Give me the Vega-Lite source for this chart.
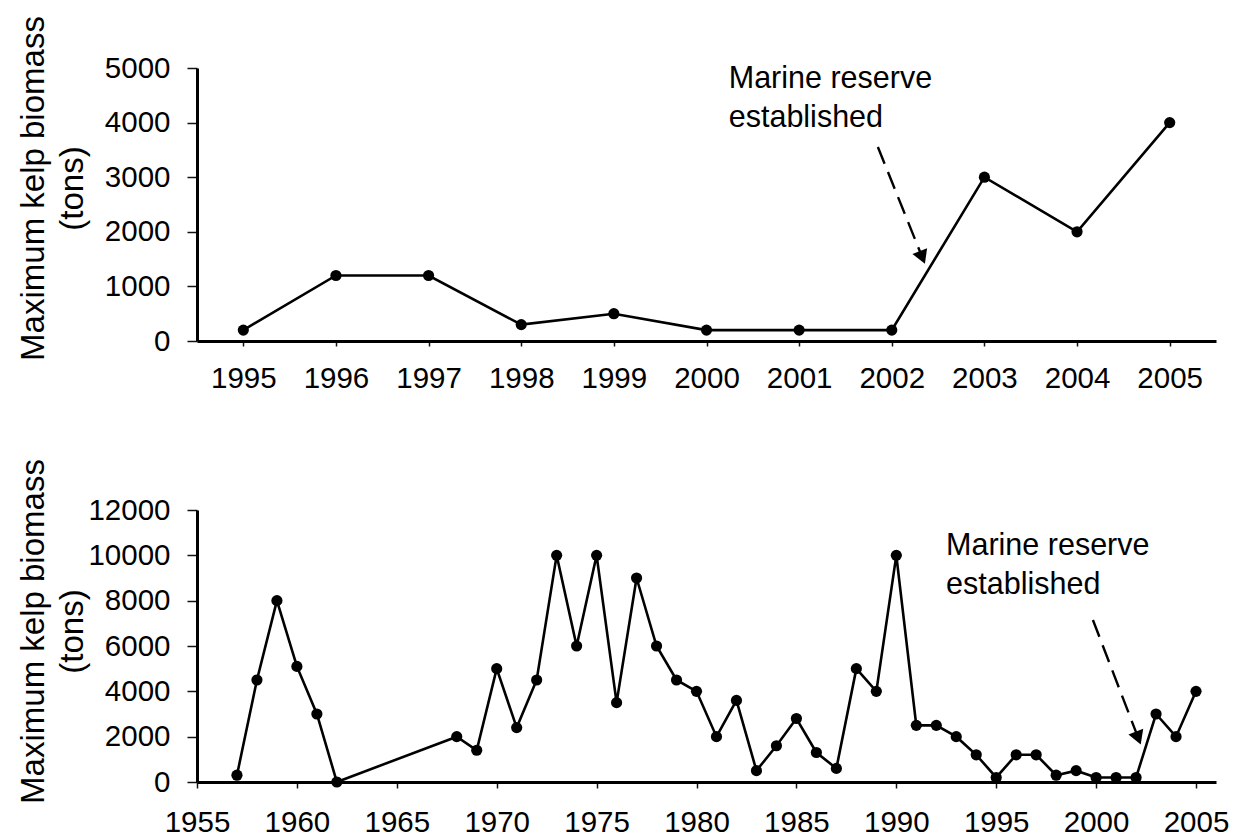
{
  "$schema": "https://vega.github.io/schema/vega-lite/v6.json",
  "background": "white",
  "padding": {"left": 17, "top": 15, "right": 5, "bottom": 0},
  "config": {
    "view": {"stroke": null},
    "font": "Liberation Sans",
    "axis": {
      "grid": false,
      "domainColor": "black",
      "domainWidth": 3,
      "tickColor": "#111111",
      "tickWidth": 1.5,
      "labelColor": "black",
      "labelFont": "Liberation Sans",
      "labelFontSize": 29.5,
      "titleFont": "Liberation Sans",
      "titleColor": "black",
      "titleFontSize": 33,
      "titleFontWeight": "normal"
    }
  },
  "datasets": {
    "top": [
      {"year": 1995, "biomass": 200},
      {"year": 1996, "biomass": 1200},
      {"year": 1997, "biomass": 1200},
      {"year": 1998, "biomass": 300},
      {"year": 1999, "biomass": 500},
      {"year": 2000, "biomass": 200},
      {"year": 2001, "biomass": 200},
      {"year": 2002, "biomass": 200},
      {"year": 2003, "biomass": 3000},
      {"year": 2004, "biomass": 2000},
      {"year": 2005, "biomass": 4000}
    ],
    "bottom": [
      {"year": 1957, "biomass": 300},
      {"year": 1958, "biomass": 4500},
      {"year": 1959, "biomass": 8000},
      {"year": 1960, "biomass": 5100},
      {"year": 1961, "biomass": 3000},
      {"year": 1962, "biomass": 0},
      {"year": 1968, "biomass": 2000},
      {"year": 1969, "biomass": 1400},
      {"year": 1970, "biomass": 5000},
      {"year": 1971, "biomass": 2400},
      {"year": 1972, "biomass": 4500},
      {"year": 1973, "biomass": 10000},
      {"year": 1974, "biomass": 6000},
      {"year": 1975, "biomass": 10000},
      {"year": 1976, "biomass": 3500},
      {"year": 1977, "biomass": 9000},
      {"year": 1978, "biomass": 6000},
      {"year": 1979, "biomass": 4500},
      {"year": 1980, "biomass": 4000},
      {"year": 1981, "biomass": 2000},
      {"year": 1982, "biomass": 3600},
      {"year": 1983, "biomass": 500},
      {"year": 1984, "biomass": 1600},
      {"year": 1985, "biomass": 2800},
      {"year": 1986, "biomass": 1300},
      {"year": 1987, "biomass": 600},
      {"year": 1988, "biomass": 5000},
      {"year": 1989, "biomass": 4000},
      {"year": 1990, "biomass": 10000},
      {"year": 1991, "biomass": 2500},
      {"year": 1992, "biomass": 2500},
      {"year": 1993, "biomass": 2000},
      {"year": 1994, "biomass": 1200},
      {"year": 1995, "biomass": 200},
      {"year": 1996, "biomass": 1200},
      {"year": 1997, "biomass": 1200},
      {"year": 1998, "biomass": 300},
      {"year": 1999, "biomass": 500},
      {"year": 2000, "biomass": 200},
      {"year": 2001, "biomass": 200},
      {"year": 2002, "biomass": 200},
      {"year": 2003, "biomass": 3000},
      {"year": 2004, "biomass": 2000},
      {"year": 2005, "biomass": 4000}
    ],
    "topArrow": [{"year": 2001.85, "biomass": 3553, "year2": 2002.33, "biomass2": 1530}],
    "topHead": [{"year": 2002.33, "biomass": 1530}],
    "topNote": [{"year": 2000.24, "biomass": 4634, "label": "Marine reserve\nestablished"}],
    "bottomArrow": [{"year": 1999.84, "biomass": 7147, "year2": 2002.11, "biomass2": 1940}],
    "bottomHead": [{"year": 2002.11, "biomass": 1940}],
    "bottomNote": [{"year": 1992.49, "biomass": 10015, "label": "Marine reserve\nestablished"}]
  },
  "bounds": "flush",
  "spacing": 169,
  "vconcat": [
    {
      "width": 1019,
      "height": 273,
      "encoding": {
        "x": {
          "field": "year",
          "type": "quantitative",
          "scale": {"domain": [1994.5, 2005.5], "nice": false, "zero": false},
          "axis": {
            "title": null,
            "values": [1995, 1996, 1997, 1998, 1999, 2000, 2001, 2002, 2003, 2004, 2005],
            "format": "d",
            "tickSize": 5,
            "labelPadding": 18,
            "labelFlush": false,
            "labelOverlap": false
          }
        },
        "y": {
          "field": "biomass",
          "type": "quantitative",
          "scale": {"domain": [0, 5000], "nice": false},
          "axis": {
            "title": ["Maximum kelp biomass", "(tons)"],
            "values": [0, 1000, 2000, 3000, 4000, 5000],
            "format": "d",
            "tickSize": 10,
            "labelPadding": 17,
            "labelFlush": false,
            "titleX": -154,
            "titleY": 120,
            "titleAngle": 270,
            "titleAlign": "center",
            "titleBaseline": "alphabetic",
            "titleLineHeight": 39
          }
        }
      },
      "layer": [
        {"data": {"name": "top"}, "mark": {"type": "line", "color": "black", "strokeWidth": 2.6}},
        {"data": {"name": "top"}, "mark": {"type": "point", "filled": true, "color": "black", "size": 125, "opacity": 1}},
        {
          "data": {"name": "topArrow"},
          "mark": {"type": "rule", "color": "black", "strokeWidth": 2.4, "strokeDash": [18, 9]},
          "encoding": {"x2": {"field": "year2"}, "y2": {"field": "biomass2"}}
        },
        {"data": {"name": "topHead"}, "mark": {"type": "point", "shape": "triangle-down", "filled": true, "color": "black", "size": 250, "angle": 338, "opacity": 1}},
        {
          "data": {"name": "topNote"},
          "mark": {"type": "text", "align": "left", "baseline": "alphabetic", "fontSize": 30.5, "lineBreak": "\n", "lineHeight": 39, "color": "black", "font": "Liberation Sans"},
          "encoding": {"text": {"field": "label"}}
        }
      ]
    },
    {
      "width": 1019,
      "height": 272,
      "encoding": {
        "x": {
          "field": "year",
          "type": "quantitative",
          "scale": {"domain": [1955, 2006], "nice": false, "zero": false},
          "axis": {
            "title": null,
            "values": [1955, 1960, 1965, 1970, 1975, 1980, 1985, 1990, 1995, 2000, 2005],
            "format": "d",
            "tickSize": 6,
            "labelPadding": 20,
            "labelFlush": false,
            "labelOverlap": false
          }
        },
        "y": {
          "field": "biomass",
          "type": "quantitative",
          "scale": {"domain": [0, 12000], "nice": false},
          "axis": {
            "title": ["Maximum kelp biomass", "(tons)"],
            "values": [0, 2000, 4000, 6000, 8000, 10000, 12000],
            "format": "d",
            "tickSize": 10,
            "labelPadding": 17,
            "labelFlush": false,
            "titleX": -154,
            "titleY": 121,
            "titleAngle": 270,
            "titleAlign": "center",
            "titleBaseline": "alphabetic",
            "titleLineHeight": 39
          }
        }
      },
      "layer": [
        {"data": {"name": "bottom"}, "mark": {"type": "line", "color": "black", "strokeWidth": 2.6}},
        {"data": {"name": "bottom"}, "mark": {"type": "point", "filled": true, "color": "black", "size": 125, "opacity": 1}},
        {
          "data": {"name": "bottomArrow"},
          "mark": {"type": "rule", "color": "black", "strokeWidth": 2.4, "strokeDash": [18, 9]},
          "encoding": {"x2": {"field": "year2"}, "y2": {"field": "biomass2"}}
        },
        {"data": {"name": "bottomHead"}, "mark": {"type": "point", "shape": "triangle-down", "filled": true, "color": "black", "size": 250, "angle": 339, "opacity": 1}},
        {
          "data": {"name": "bottomNote"},
          "mark": {"type": "text", "align": "left", "baseline": "alphabetic", "fontSize": 30.5, "lineBreak": "\n", "lineHeight": 39, "color": "black", "font": "Liberation Sans"},
          "encoding": {"text": {"field": "label"}}
        }
      ]
    }
  ]
}
